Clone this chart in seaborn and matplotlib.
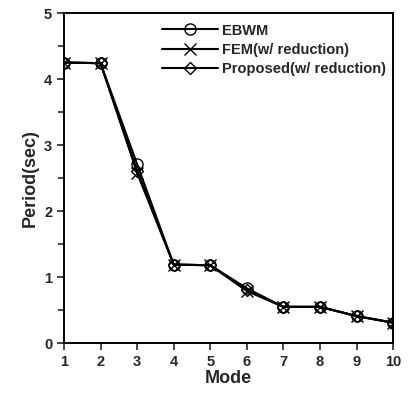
import numpy as np
import pandas as pd
import matplotlib
matplotlib.use("Agg")
import matplotlib.pyplot as plt
import seaborn as sns
from matplotlib.ticker import MultipleLocator

modes = [1, 2, 3, 4, 5, 6, 7, 8, 9, 10]
ebwm = [4.25, 4.24, 2.71, 1.19, 1.18, 0.83, 0.55, 0.55, 0.41, 0.31]
fem = [4.25, 4.24, 2.58, 1.19, 1.18, 0.79, 0.55, 0.55, 0.41, 0.31]
proposed = [4.25, 4.24, 2.61, 1.19, 1.18, 0.80, 0.55, 0.55, 0.41, 0.31]
series_names = ["EBWM", "FEM(w/ reduction)", "Proposed(w/ reduction)"]
series_markers = ["o", "x", "D"]

sns.set_style("ticks")
plt.rcParams["font.family"] = ["Liberation Sans", "DejaVu Sans"]
plt.rcParams["font.weight"] = "bold"

fig = plt.figure(figsize=(4.1, 3.94), dpi=100)
ax = fig.add_axes([0.156, 0.129, 0.803, 0.838])

for name, vals, mk in zip(series_names, [ebwm, fem, proposed], series_markers):
    df = pd.DataFrame({"Mode": modes, "Period": vals})
    sns.lineplot(
        data=df, x="Mode", y="Period", color="black", marker=mk,
        markersize=6 if mk == "D" else 8, linewidth=1.5,
        markerfacecolor="none", markeredgecolor="black",
        markeredgewidth=1.0, label=name, ax=ax,
    )

ax.set_xlim(1, 10)
ax.set_ylim(0, 5)
ax.set_xticks(modes)
ax.yaxis.set_major_locator(MultipleLocator(1))
ax.yaxis.set_minor_locator(MultipleLocator(0.5))
ax.tick_params(axis="both", which="major", direction="out", length=5, width=1.2,
               labelsize=10.5)
ax.tick_params(axis="y", which="minor", direction="out", length=4, width=1.2)
for lab in ax.get_xticklabels() + ax.get_yticklabels():
    lab.set_fontweight("bold")
for s in ax.spines.values():
    s.set_visible(True)
    s.set_linewidth(1.4)
    s.set_color("black")

ax.set_xlabel("Mode", fontsize=13, fontweight="bold", labelpad=1)
ax.set_ylabel("Period(sec)", fontsize=13, fontweight="bold", labelpad=4)

leg = ax.legend(loc="upper right", bbox_to_anchor=(1.0, 0.99), frameon=False,
                fontsize=10.5, handlelength=3.8, handletextpad=0.3,
                labelspacing=0.35, borderaxespad=0.1)
for t in leg.get_texts():
    t.set_fontweight("bold")

fig.savefig("out.png", dpi=100)
